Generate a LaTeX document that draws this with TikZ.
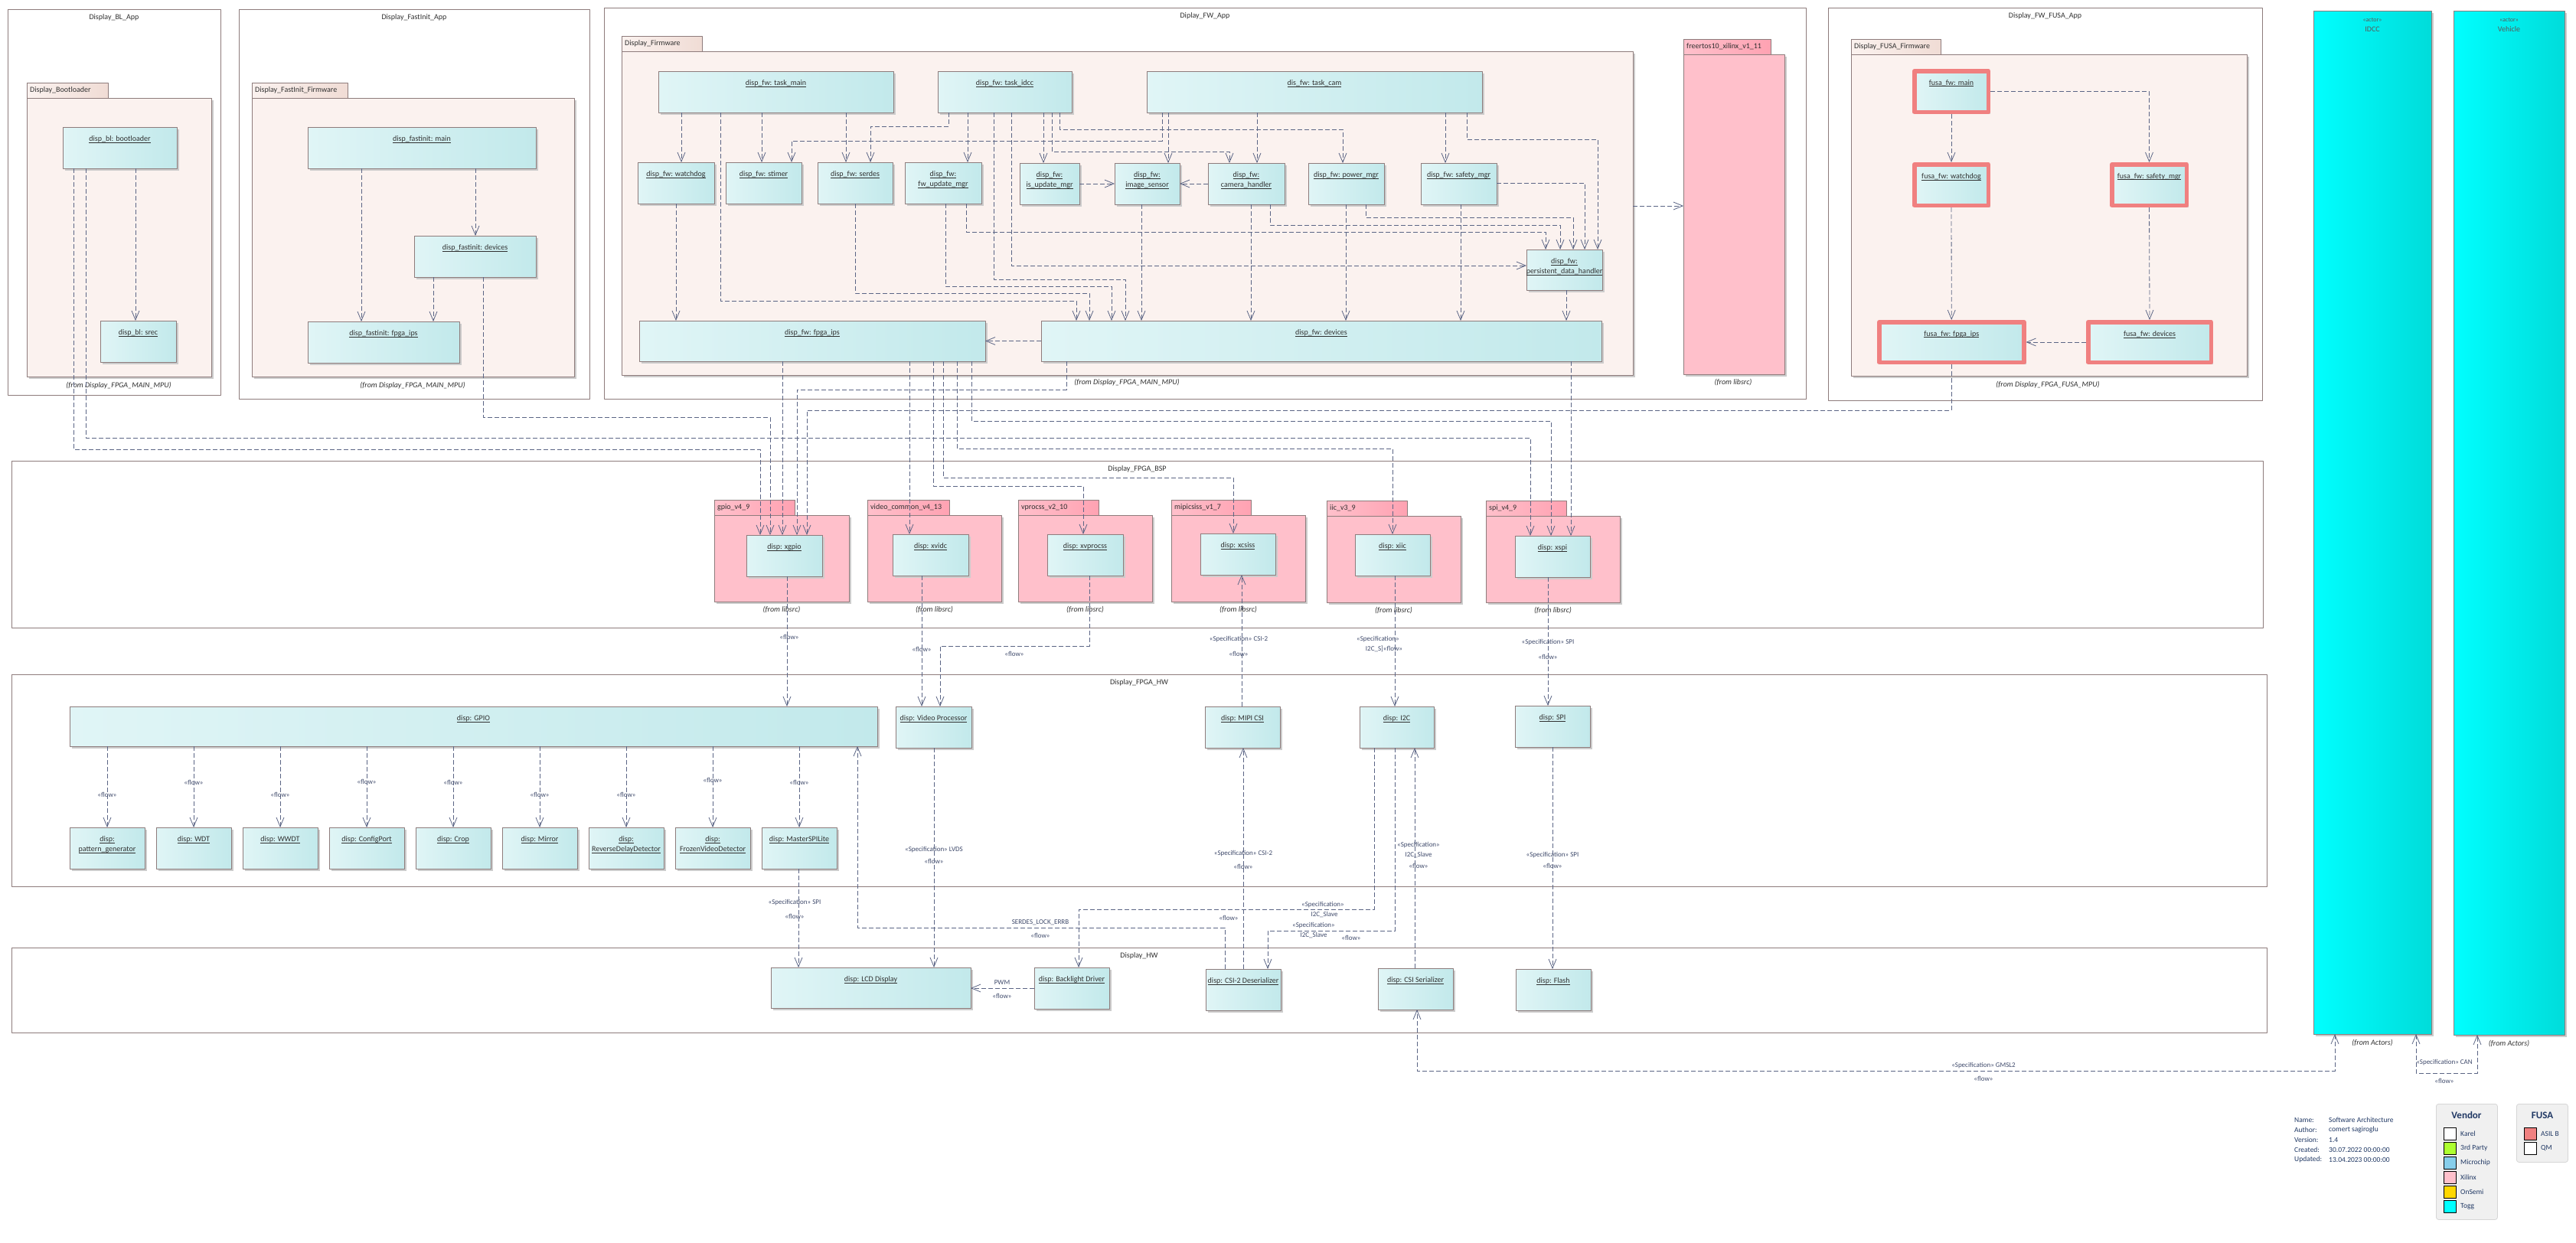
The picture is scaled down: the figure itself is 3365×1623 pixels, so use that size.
\documentclass[tikz,border=0pt]{standalone}
\usepackage{fontspec}
\setmainfont{Carlito}
\usepackage{tikz}
\usetikzlibrary{arrows.meta,shadows}
\definecolor{objl}{HTML}{E0F5F6}
\definecolor{objr}{HTML}{C2E9EB}
\definecolor{brdc}{HTML}{8E7C7C}
\definecolor{pkgl}{HTML}{FBF2EF}
\definecolor{pkgr}{HTML}{F0DCD5}
\definecolor{xill}{HTML}{FFC0CB}
\definecolor{xilr}{HTML}{FFA2B2}
\definecolor{edgec}{HTML}{5B6585}
\definecolor{txtc}{HTML}{303030}
\definecolor{stc}{HTML}{3F4A6B}
\definecolor{asil}{HTML}{F08080}
\definecolor{toggl}{HTML}{00FFFF}
\definecolor{toggr}{HTML}{00DCDA}
\definecolor{legc}{HTML}{203864}
\definecolor{legbg}{HTML}{F0F0F0}
\definecolor{legbrd}{HTML}{D6D6D6}
\definecolor{gryel}{HTML}{ADFF2F}
\definecolor{skyb}{HTML}{87CEEB}
\definecolor{goldc}{HTML}{FFD700}
\newcommand{\uln}[1]{\leavevmode\setbox0\hbox{#1}\rlap{\rule[-2.3pt]{\wd0}{0.9pt}}\box0}
\newcommand{\umlobj}[7][]{%
  \node[obj,#1,minimum width=#5pt,minimum height=#6pt,label={[objlbl]north:#7}] (#2) at (#3,#4) {};}
\newcommand{\umlpkg}[8][own]{%
  \node[#1tab,minimum width=#5pt,label={[tablbl]west:#8}] (#2tab) at (#3,#4) {};
  \node[#1body,minimum width=#6pt,minimum height=#7pt] (#2) at (#3,#4+20) {};}

\begin{document}
\begin{tikzpicture}[x=1pt,y=-1pt,line join=round,
  bndry/.style={draw=brdc,line width=0.8pt,fill=white,anchor=north west,inner sep=0pt,outer sep=0pt},
  frmlbl/.style={anchor=north,yshift=-6.5pt,inner sep=0pt,font=\fontsize{10}{12}\selectfont,text=txtc},
  owntab/.style={draw=brdc,line width=0.8pt,left color=pkgl,right color=pkgr,anchor=north west,minimum height=20pt,inner sep=0pt,outer sep=0pt},
  ownbody/.style={draw=brdc,line width=0.8pt,fill=pkgl,anchor=north west,inner sep=0pt,outer sep=0pt,
    drop shadow={shadow xshift=3pt,shadow yshift=-3pt,fill=black!20,opacity=1}},
  xiltab/.style={owntab,left color=xill,right color=xilr},
  xilbody/.style={ownbody,fill=xill},
  tablbl/.style={anchor=west,xshift=4pt,inner sep=0pt,font=\fontsize{10}{12}\selectfont,text=txtc},
  obj/.style={draw=brdc,line width=0.8pt,left color=objl,right color=objr,anchor=north west,inner sep=0pt,outer sep=0pt,
    drop shadow={shadow xshift=3pt,shadow yshift=-3pt,fill=black!20,opacity=1}},
  asilobj/.style={draw=asil,line width=5.5pt,outer sep=2.75pt},
  actorbox/.style={obj,left color=toggl,right color=toggr},
  objlbl/.style={anchor=north,yshift=-11pt,inner sep=0pt,align=center,font=\fontsize{10}{13.5}\selectfont,text=txtc},
  actlbl/.style={anchor=north,yshift=-9pt,inner sep=0pt,align=center,font=\fontsize{10}{13}\selectfont,text=black!65},
  fromlbl/.style={inner sep=0pt,font=\fontsize{10}{12}\selectfont\itshape,text=txtc},
  stereo/.style={inner sep=0pt,font=\fontsize{9}{11}\selectfont,text=stc},
  dep/.style={draw=edgec,line width=0.8pt,dash pattern=on 6pt off 3pt,-{Straight Barb[length=12pt,width=10pt]}},
  bidep/.style={dep,{Straight Barb[length=12pt,width=10pt]}-{Straight Barb[length=12pt,width=10pt]}},
  legtxt/.style={anchor=west,inner sep=0pt,font=\fontsize{9.5}{11}\selectfont,text=legc},
  legtitle/.style={inner sep=0pt,font=\fontsize{13}{15}\selectfont\bfseries,text=legc},
  legbox/.style={draw=legbrd,fill=legbg,rounded corners=3pt,anchor=north west,inner sep=0pt,line width=0.8pt},
  swatch/.style={draw=black,line width=0.8pt,minimum size=16pt,inner sep=0pt}]
\useasboundingbox (0,0) rectangle (3365,1623);

% boundaries
\node[bndry,minimum width=278pt,minimum height=504pt,label={[frmlbl]north:Display\_BL\_App}] (blapp) at (10,12) {};
\node[bndry,minimum width=458pt,minimum height=509pt,label={[frmlbl]north:Display\_FastInit\_App}] (fiapp) at (312,12) {};
\node[bndry,minimum width=1570pt,minimum height=511pt,label={[frmlbl]north:Diplay\_FW\_App}] (fwapp) at (789,10) {};
\node[bndry,minimum width=567pt,minimum height=513pt,label={[frmlbl]north:Display\_FW\_FUSA\_App}] (fusaapp) at (2388,10) {};
\node[bndry,minimum width=2941pt,minimum height=218pt,label={[frmlbl]north:Display\_FPGA\_BSP}] (bsp) at (15,602) {};
\node[bndry,minimum width=2946pt,minimum height=277pt,label={[frmlbl]north:Display\_FPGA\_HW}] (fpgahw) at (15,881) {};
\node[bndry,minimum width=2946pt,minimum height=111pt,label={[frmlbl]north:Display\_HW}] (disphw) at (15,1238) {};

% packages
\umlpkg{blpkg}{35}{108}{106}{241}{364}{Display\_Bootloader}
\umlpkg{fipkg}{329}{108}{125}{421}{364}{Display\_FastInit\_Firmware}
\umlpkg{fwpkg}{812}{47}{105}{1321}{423}{Display\_Firmware}
\umlpkg[xil]{rtos}{2199}{51}{114}{132}{418}{freertos10\_xilinx\_v1\_11}
\umlpkg{fusapkg}{2418}{51}{117}{517}{420}{Display\_FUSA\_Firmware}
\umlpkg[xil]{gpiopkg}{933}{653}{105}{176}{113}{gpio\_v4\_9}
\umlpkg[xil]{vidpkg}{1133}{653}{107}{175}{113}{video\_common\_v4\_13}
\umlpkg[xil]{vprpkg}{1330}{653}{105}{175}{113}{vprocss\_v2\_10}
\umlpkg[xil]{mipipkg}{1530}{653}{104}{175}{113}{mipicsiss\_v1\_7}
\umlpkg[xil]{iicpkg}{1733}{654}{105}{175}{113}{iic\_v3\_9}
\umlpkg[xil]{spipkg}{1941}{654}{105}{175}{113}{spi\_v4\_9}

\node[fromlbl] (blfrom) at (155,504) {(from Display\_FPGA\_MAIN\_MPU)};
\node[fromlbl] (fifrom) at (539,504) {(from Display\_FPGA\_MAIN\_MPU)};
\node[fromlbl] (fwfrom) at (1472,500) {(from Display\_FPGA\_MAIN\_MPU)};
\node[fromlbl] (rtosfrom) at (2264,500) {(from libsrc)};
\node[fromlbl] (fusafrom) at (2675,503) {(from Display\_FPGA\_FUSA\_MPU)};
\foreach \p in {gpiopkg,vidpkg,vprpkg,mipipkg,iicpkg,spipkg}
  \node[fromlbl] (\p-from) at ([yshift=-11pt]\p.south) {(from libsrc)};

% objects
\umlobj{blboot}{82}{166}{149}{54}{\uln{disp\_bl: bootloader}}
\umlobj{blsrec}{131}{419}{99}{54}{\uln{disp\_bl: srec}}
\umlobj{fimain}{402}{166}{298}{54}{\uln{disp\_fastinit: main}}
\umlobj{fidev}{541}{308}{159}{54}{\uln{disp\_fastinit: devices}}
\umlobj{fiips}{402}{420}{198}{54}{\uln{disp\_fastinit: fpga\_ips}}
\umlobj{tmain}{860}{93}{307}{54}{\uln{disp\_fw: task\_main}}
\umlobj{tidcc}{1225}{93}{175}{54}{\uln{disp\_fw: task\_idcc}}
\umlobj{tcam}{1498}{93}{438}{54}{\uln{dis\_fw: task\_cam}}
\umlobj{wdog}{833}{212}{100}{54}{\uln{disp\_fw: watchdog}}
\umlobj{stimer}{948}{212}{99}{54}{\uln{disp\_fw: stimer}}
\umlobj{serdes}{1068}{212}{98}{54}{\uln{disp\_fw: serdes}}
\umlobj{fwupd}{1182}{212}{100}{54}{\uln{disp\_fw:}\\\uln{fw\_update\_mgr}}
\umlobj{isupd}{1332}{213}{78}{54}{\uln{disp\_fw:}\\\uln{is\_update\_mgr}}
\umlobj{imgsen}{1456}{213}{85}{54}{\uln{disp\_fw:}\\\uln{image\_sensor}}
\umlobj{camh}{1578}{213}{100}{54}{\uln{disp\_fw:}\\\uln{camera\_handler}}
\umlobj{pwr}{1709}{213}{99}{54}{\uln{disp\_fw: power\_mgr}}
\umlobj{safety}{1856}{213}{99}{54}{\uln{disp\_fw: safety\_mgr}}
\umlobj{pdh}{1994}{326}{99}{53}{\uln{disp\_fw:}\\\uln{persistent\_data\_handler}}
\umlobj{fwips}{835}{419}{452}{53}{\uln{disp\_fw: fpga\_ips}}
\umlobj{fwdev}{1360}{419}{732}{53}{\uln{disp\_fw: devices}}
\node[obj,asilobj,minimum width=96.5pt,minimum height=53.5pt,label={[objlbl,yshift=-3pt]north:\uln{fusa\_fw: main}}] (fmain) at (2498,90) {};
\node[obj,asilobj,minimum width=96.5pt,minimum height=53.5pt,label={[objlbl,yshift=-3pt]north:\uln{fusa\_fw: watchdog}}] (fwdg) at (2498,212) {};
\node[obj,asilobj,minimum width=97.5pt,minimum height=53.5pt,label={[objlbl,yshift=-3pt]north:\uln{fusa\_fw: safety\_mgr}}] (fsafe) at (2756,212) {};
\node[obj,asilobj,minimum width=189pt,minimum height=52.5pt,label={[objlbl,yshift=-3pt]north:\uln{fusa\_fw: fpga\_ips}}] (fips) at (2452,418) {};
\node[obj,asilobj,minimum width=160.5pt,minimum height=52.5pt,label={[objlbl,yshift=-3pt]north:\uln{fusa\_fw: devices}}] (fdev) at (2725,418) {};
\umlobj{xgpio}{975}{699}{99}{54}{\uln{disp: xgpio}}
\umlobj{xvidc}{1166}{698}{99}{54}{\uln{disp: xvidc}}
\umlobj{xvprocss}{1368}{698}{99}{54}{\uln{disp: xvprocss}}
\umlobj{xcsiss}{1568}{697}{98}{54}{\uln{disp: xcsiss}}
\umlobj{xiic}{1770}{698}{98}{54}{\uln{disp: xiic}}
\umlobj{xspi}{1979}{700}{98}{54}{\uln{disp: xspi}}
\umlobj{gpio}{91}{923}{1055}{52}{\uln{disp: GPIO}}
\umlobj{vproc}{1170}{923}{99}{54}{\uln{disp: Video Processor}}
\umlobj{mipi}{1574}{923}{98}{54}{\uln{disp: MIPI CSI}}
\umlobj{i2c}{1776}{923}{97}{54}{\uln{disp: I2C}}
\umlobj{spi}{1979}{922}{98}{54}{\uln{disp: SPI}}
\umlobj{lcd}{1007}{1264}{261}{53}{\uln{disp: LCD Display}}
\umlobj{backl}{1351}{1264}{98}{54}{\uln{disp: Backlight Driver}}
\umlobj{deser}{1575}{1266}{98}{54}{\uln{disp: CSI-2 Deserializer}}
\umlobj{ser}{1800}{1265}{98}{54}{\uln{disp: CSI Serializer}}
\umlobj{flash}{1980}{1266}{98}{54}{\uln{disp: Flash}}
\node[actorbox,minimum width=154pt,minimum height=1337pt,label={[actlbl]north:{{\fontsize{8}{10}\selectfont«actor»}\\IDCC}}] (idcc) at (3022,14) {};
\node[actorbox,minimum width=145pt,minimum height=1338pt,label={[actlbl]north:{{\fontsize{8}{10}\selectfont«actor»}\\Vehicle}}] (vehicle) at (3205,14) {};
\node[fromlbl] (idccfrom) at ([yshift=-12pt]idcc.south) {(from Actors)};
\node[fromlbl] (vehfrom) at ([yshift=-12pt]vehicle.south) {(from Actors)};

% bootloader and fastinit
\draw[dep] (blboot.south -| 177,0) -- (blsrec.north -| 177,0);
\draw[dep] (blboot.south -| 96,0) |- (993,587) -- (xgpio.north -| 993,0);
\draw[dep] (blboot.south -| 112,0) |- (1999,572) -- (xspi.north -| 1999,0);
\draw[dep] (fimain.south -| 472,0) -- (fiips.north -| 472,0);
\draw[dep] (fimain.south -| 621,0) -- (fidev.north -| 621,0);
\draw[dep] (fidev.south -| 566,0) -- (fiips.north -| 566,0);
\draw[dep] (fidev.south -| 631,0) |- (1006,545) -- (xgpio.north -| 1006,0);

% firmware
\draw[dep] (tmain.south -| 890,0) -- (wdog.north -| 890,0);
\draw[dep] (tmain.south -| 995,0) -- (stimer.north -| 995,0);
\draw[dep] (tmain.south -| 1105,0) -- (serdes.north -| 1105,0);
\draw[dep] (tmain.south -| 941,0) |- (1406,393) -- (fwdev.north -| 1406,0);
\draw[dep] (tidcc.south -| 1239,0) |- (1137,165) -- (serdes.north -| 1137,0);
\draw[dep] (tidcc.south -| 1264,0) -- (fwupd.north -| 1264,0);
\draw[dep] (tidcc.south -| 1298,0) |- (1470,365) -- (fwdev.north -| 1470,0);
\draw[dep] (tidcc.south -| 1321,0) |- (pdh.west |- 0,347);
\draw[dep] (tidcc.south -| 1363,0) -- (isupd.north -| 1363,0);
\draw[dep] (tidcc.south -| 1374,0) |- (1606,198) -- (camh.north -| 1606,0);
\draw[dep] (tidcc.south -| 1384,0) |- (1754,169) -- (pwr.north -| 1754,0);
\draw[dep] (tcam.south -| 1518,0) |- (1034,184) -- (stimer.north -| 1034,0);
\draw[dep] (tcam.south -| 1526,0) -- (imgsen.north -| 1526,0);
\draw[dep] (tcam.south -| 1642,0) -- (camh.north -| 1642,0);
\draw[dep] (tcam.south -| 1888,0) -- (safety.north -| 1888,0);
\draw[dep] (tcam.south -| 1916,0) |- (2087,182) -- (pdh.north -| 2087,0);
\draw[dep] (wdog.south -| 883,0) -- (fwips.north -| 883,0);
\draw[dep] (serdes.south -| 1117,0) |- (1423,383) -- (fwdev.north -| 1423,0);
\draw[dep] (fwupd.south -| 1235,0) |- (1452,374) -- (fwdev.north -| 1452,0);
\draw[dep] (fwupd.south -| 1262,0) |- (2019,303) -- (pdh.north -| 2019,0);
\draw[dep] (isupd.east) -- (imgsen.west);
\draw[dep] (camh.west) -- (imgsen.east);
\draw[dep] (imgsen.south -| 1491,0) -- (fwdev.north -| 1491,0);
\draw[dep] (camh.south -| 1634,0) -- (fwdev.north -| 1634,0);
\draw[dep] (camh.south -| 1659,0) |- (2038,294) -- (pdh.north -| 2038,0);
\draw[dep] (pwr.south -| 1758,0) -- (fwdev.north -| 1758,0);
\draw[dep] (pwr.south -| 1784,0) |- (2055,284) -- (pdh.north -| 2055,0);
\draw[dep] (safety.south -| 1908,0) -- (fwdev.north -| 1908,0);
\draw[dep] (safety.east |- 0,239) -| (pdh.north -| 2070,0);
\draw[dep] (pdh.south -| 2046,0) -- (fwdev.north -| 2046,0);
\draw[dep] (fwdev.west) -- (fwips.east);
\draw[dep] (fwpkg.east |- 0,269) -- (rtos.west |- 0,269);
\draw[dep] (fwips.south -| 1022,0) -- (xgpio.north -| 1022,0);
\draw[dep] (fwips.south -| 1188,0) -- (xvidc.north -| 1188,0);
\draw[dep] (fwips.south -| 1219,0) |- (1415,635) -- (xvprocss.north -| 1415,0);
\draw[dep] (fwips.south -| 1232,0) |- (1611,624) -- (xcsiss.north -| 1611,0);
\draw[dep] (fwips.south -| 1250,0) |- (1819,586) -- (xiic.north -| 1819,0);
\draw[dep] (fwips.south -| 1269,0) |- (2026,550) -- (xspi.north -| 2026,0);
\draw[dep] (fwdev.south -| 1393,0) |- (1041,509) -- (xgpio.north -| 1041,0);
\draw[dep] (fwdev.south -| 2052,0) -- (xspi.north -| 2052,0);

% fusa
\draw[dep] (fmain.south) -- (fwdg.north);
\draw[dep] (fmain.east) -| (fsafe.north);
\draw[dep] (fwdg.south) -- (fips.north);
\draw[dep] (fsafe.south) -- (fdev.north);
\draw[dep] (fdev.west) -- (fips.east);
\draw[dep] (fips.south) |- (1054,536) -- (xgpio.north -| 1054,0);

% bsp to fpga hw
\draw[dep] (xgpio.south -| 1028,0) -- (gpio.north -| 1028,0);
\node[stereo] (fl1) at (1031,832) {«flow»};
\draw[dep] (xvidc.south -| 1204,0) -- (vproc.north -| 1204,0);
\node[stereo] (fl2) at (1204,848) {«flow»};
\draw[dep] (xvprocss.south -| 1423,0) |- (1228,844) -- (vproc.north -| 1228,0);
\node[stereo] (fl3) at (1325,854) {«flow»};
\draw[dep] (mipi.north -| 1622,0) -- (xcsiss.south -| 1622,0);
\node[stereo] (sp1) at (1618,835) {«Specification» CSI-2};
\node[stereo] (fl4) at (1618,854) {«flow»};
\draw[dep] (xiic.south -| 1822,0) -- (i2c.north -| 1822,0);
\node[stereo] (sp2) at (1800,835) {«Specification»};
\node[stereo] (fl5) at (1808,848) {I2C\_S]«flow»};
\draw[dep] (xspi.south -| 2022,0) -- (spi.north -| 2022,0);
\node[stereo] (sp3) at (2022,839) {«Specification» SPI};
\node[stereo] (fl6) at (2022,858) {«flow»};

% gpio blocks
\foreach \nm/\txt/\fy [count=\i from 0] in {
  patgen/{\uln{disp:}\\\uln{pattern\_generator}}/1038,
  wdt/{\uln{disp: WDT}}/1022,
  wwdt/{\uln{disp: WWDT}}/1038,
  cfgport/{\uln{disp: ConfigPort}}/1021,
  crop/{\uln{disp: Crop}}/1022,
  mirror/{\uln{disp: Mirror}}/1038,
  revdel/{\uln{disp:}\\\uln{ReverseDelayDetector}}/1038,
  frozen/{\uln{disp:}\\\uln{FrozenVideoDetector}}/1019,
  mspi/{\uln{disp: MasterSPILite}}/1022} {
  \node[obj,minimum width=98pt,minimum height=54pt,label={[objlbl]north:\txt}] (\nm) at ({91+113*\i},1081) {};
  \draw[dep] (gpio.south -| \nm.north) -- (\nm.north);
  \node[stereo] (fl-\nm) at (\nm.north |- 0,\fy) {«flow»};
}

% fpga hw to display hw
\draw[dep] (vproc.south -| 1220,0) -- (lcd.north -| 1220,0);
\node[stereo] (sp4) at (1220,1110) {«Specification» LVDS};
\node[stereo] (fl7) at (1220,1125) {«flow»};
\draw[dep] (mspi.south -| 1043,0) -- (lcd.north -| 1043,0);
\node[stereo] (sp5) at (1038,1179) {«Specification» SPI};
\node[stereo] (fl8) at (1038,1197) {«flow»};
\draw[dep] (deser.north -| 1600,0) |- (1120,1212) -- (gpio.south -| 1120,0);
\node[stereo] (serr) at (1359,1205) {SERDES\_LOCK\_ERRB};
\node[stereo] (fl9) at (1359,1222) {«flow»};
\draw[dep] (deser.north -| 1624,0) -- (mipi.south -| 1624,0);
\node[stereo] (sp6) at (1624,1115) {«Specification» CSI-2};
\node[stereo] (fl10) at (1624,1132) {«flow»};
\node[stereo] (fl11) at (1605,1199) {«flow»};
\draw[dep] (i2c.south -| 1795,0) |- (1409,1188) -- (backl.north -| 1409,0);
\node[stereo] (sp7) at (1728,1182) {«Specification»};
\node[stereo] (sl1) at (1730,1195) {I2C\_Slave};
\draw[dep] (i2c.south -| 1822,0) |- (1656,1216) -- (deser.north -| 1656,0);
\node[stereo] (sp8) at (1716,1209) {«Specification»};
\node[stereo] (sl2) at (1716,1222) {I2C\_Slave};
\node[stereo] (fl12) at (1765,1225) {«flow»};
\draw[dep] (ser.north -| 1848,0) -- (i2c.south -| 1848,0);
\node[stereo] (sp9) at (1853,1104) {«Specification»};
\node[stereo] (sl3) at (1853,1117) {I2C\_Slave};
\node[stereo] (fl13) at (1853,1131) {«flow»};
\draw[dep] (spi.south -| 2028,0) -- (flash.north -| 2028,0);
\node[stereo] (sp10) at (2028,1117) {«Specification» SPI};
\node[stereo] (fl14) at (2028,1131) {«flow»};
\draw[dep] (backl.west |- 0,1291) -- (lcd.east |- 0,1291);
\node[stereo] (pwm) at (1309,1284) {PWM};
\node[stereo] (fl15) at (1309,1301) {«flow»};
\draw[bidep] (idcc.south -| 3050,0) |- (1851,1399) -- (ser.south -| 1851,0);
\node[stereo] (sp11) at (2591,1392) {«Specification» GMSL2};
\node[stereo] (fl16) at (2591,1409) {«flow»};
\draw[bidep] (idcc.south -| 3156,0) |- (3236,1402) -- (vehicle.south -| 3236,0);
\node[stereo] (sp12) at (3193,1388) {«Specification» CAN};
\node[stereo] (fl17) at (3193,1412) {«flow»};

% legend
\foreach \k/\v [count=\i from 0] in {Name:/Software Architecture,Author:/comert sagiroglu,Version:/1.4,Created:/30.07.2022 00:00:00,Updated:/13.04.2023 00:00:00} {
  \node[legtxt] (key\i) at (2997,{1463+13*\i}) {\k};
  \node[legtxt] (val\i) at (3042,{1463+13*\i}) {\v};
}
\node[legbox,minimum width=80pt,minimum height=151pt] (vendbox) at (3182,1442) {};
\node[legtitle] (vendtitle) at (3222,1457) {Vendor};
\foreach \c/\t [count=\i] in {white/Karel,gryel/3rd Party,skyb/Microchip,xill/Xilinx,goldc/OnSemi,toggl/Togg} {
  \node[swatch,fill=\c] (vsw\i) at (3200.5,{1462+19*\i}) {};
  \node[legtxt] (vtx\i) at (3214,{1462+19*\i}) {\t};
}
\node[legbox,minimum width=67pt,minimum height=76pt] (fusabox) at (3287,1442) {};
\node[legtitle] (fusatitle) at (3321,1457) {FUSA};
\foreach \c/\t [count=\i] in {asil/ASIL B,white/QM} {
  \node[swatch,fill=\c] (fsw\i) at (3305.3,{1462+19*\i}) {};
  \node[legtxt] (ftx\i) at (3319,{1462+19*\i}) {\t};
}
\end{tikzpicture}
\end{document}
